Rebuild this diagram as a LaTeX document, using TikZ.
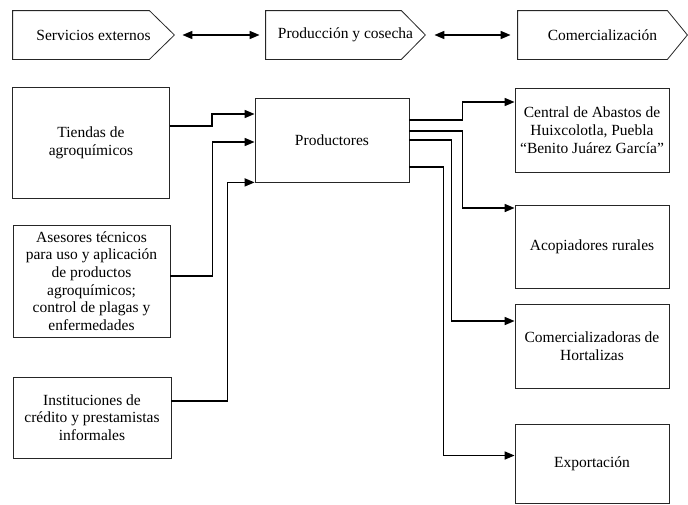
\documentclass[tikz,border=0pt]{standalone}
\usepackage{fontspec}
\setmainfont{Liberation Serif}
\usetikzlibrary{arrows.meta}

\begin{document}
\begin{tikzpicture}[x=1pt,y=-1pt,
    box/.style={draw=black!85, line width=0.8pt, align=center, inner sep=2pt,
                font=\fontsize{15.5}{17.7}\selectfont},
    stage/.style={box, draw=none, minimum height=48pt},
    outline/.style={draw=black!85, line width=0.8pt},
    link/.style={line width=1.6pt, -{Triangle[length=10pt,width=8pt]}},
    dlink/.style={line width=1.6pt, {Triangle[length=10pt,width=8pt]}-{Triangle[length=10pt,width=8pt]}}]
\useasboundingbox (0,0) rectangle (688,504);

% Stages
\node[stage, minimum width=161pt] (servicios) at (93.5,35) {Servicios externos};
\node[stage, minimum width=159pt] (produccion) at (345.5,35) {Producción y cosecha};
\node[stage, minimum width=169pt] (comercio) at (602.5,35) {Comercialización};
\draw[outline] (servicios.north west) -- ([xshift=-25pt]servicios.north east) -- (servicios.east)
  -- ([xshift=-25pt]servicios.south east) -- (servicios.south west) -- cycle;
\draw[outline] (produccion.north west) -- ([xshift=-24pt]produccion.north east) -- (produccion.east)
  -- ([xshift=-24pt]produccion.south east) -- (produccion.south west) -- cycle;
\draw[outline] (comercio.north west) -- ([xshift=-20pt]comercio.north east) -- (comercio.east)
  -- ([xshift=-20pt]comercio.south east) -- (comercio.south west) -- cycle;

% Nodes
\node[box, minimum width=157pt, minimum height=111pt] (tiendas) at (91,142.5) {Tiendas de\\agroquímicos};
\node[box, minimum width=157pt, minimum height=112pt] (asesores) at (91.5,281) {Asesores técnicos\\para uso y aplicación\\de productos\\agroquímicos;\\control de plagas y\\enfermedades};
\node[box, minimum width=158pt, minimum height=81pt] (instituciones) at (92,417.5) {Instituciones de\\crédito y prestamistas\\informales};
\node[box, minimum width=154pt, minimum height=84pt] (productores) at (332,140) {Productores};
\node[box, minimum width=154pt, minimum height=84pt] (central) at (592,130) {Central de Abastos de\\Huixcolotla, Puebla\\``Benito Juárez García''};
\node[box, minimum width=154pt, minimum height=83pt] (acopiadores) at (592,246.5) {Acopiadores rurales};
\node[box, minimum width=154pt, minimum height=84pt] (hortalizas) at (592,346) {Comercializadoras de\\Hortalizas};
\node[box, minimum width=154pt, minimum height=79pt] (exportacion) at (592,463.5) {Exportación};

% Links
\draw[dlink, shorten <=8pt, shorten >=6pt] (servicios.east) -- (produccion.west);
\draw[dlink, shorten <=9pt, shorten >=7pt] (produccion.east) -- (comercio.west);

\draw[link] ([yshift=16.5pt]tiendas.east) -- ++(42,0) |- ([yshift=26pt]productores.west);
\draw[link] ([yshift=5pt]asesores.east) -- ++(42,0) |- ([yshift=-2pt]productores.west);
\draw[link] ([yshift=16.5pt]instituciones.east) -- ++(56,0) |- (productores.south west);

\draw[link] ([yshift=20pt]productores.east) -- ++(53,0) |- ([yshift=28pt]central.west);
\draw[link] ([yshift=9pt]productores.east) -- ++(53,0) |- ([yshift=38.5pt]acopiadores.west);
\draw[link] (productores.east) -- ++(42,0) |- ([yshift=25pt]hortalizas.west);
\draw[link] ([yshift=-27pt]productores.east) -- ++(34,0) |- ([yshift=8pt]exportacion.west);

\end{tikzpicture}
\end{document}
